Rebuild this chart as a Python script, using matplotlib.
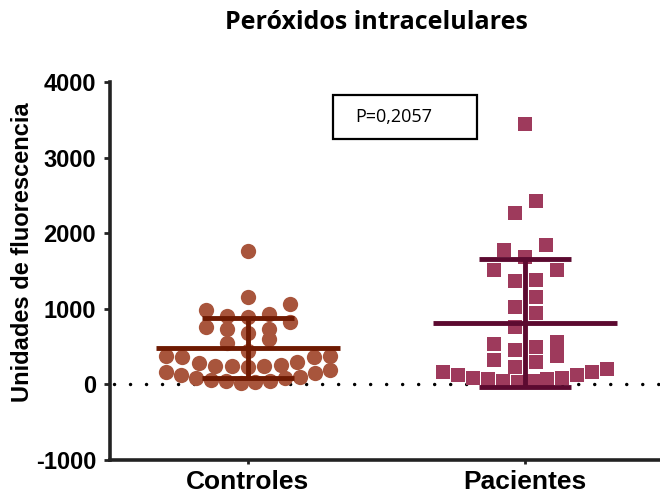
import numpy as np
import matplotlib.pyplot as plt
from matplotlib.patches import Rectangle

# valores
groups = ["Controles", "Pacientes"]
controles = [1760, 1160, 1060, 990, 930, 900, 890, 830, 760, 730, 730, 680,
             600, 545, 440, 380, 370, 360, 360, 290, 280, 260, 250, 250, 240,
             230, 190, 160, 150, 120, 100, 90, 80, 60, 50, 40, 30, 20]
pacientes = [3440, 2420, 2270, 1840, 1780, 1680, 1510, 1510, 1380, 1370,
             1150, 1020, 940, 760, 560, 530, 500, 450, 380, 320, 290, 230,
             210, 160, 160, 120, 120, 90, 90, 70, 70, 40, 40, 30]
means = [480, 810]
sds = [400, 850]
p_text = "P=0,2057"
yticks = [-1000, 0, 1000, 2000, 3000, 4000]

dot_colors = ["#A8553C", "#9E3A5C"]
line_colors = ["#6E1A02", "#5C0A30"]
markers = ["o", "s"]


def spread(ax, xc, vals, row_px=15, gap_px=21, half_px=82):
    # filas por valor, puntos repartidos a lo ancho (como GraphPad)
    trans = ax.transData
    inv = trans.inverted()
    x0 = trans.transform((xc, 0))[0]
    py = np.array([trans.transform((xc, v))[1] for v in vals])
    order = np.argsort(py, kind="stable")
    rows, cur, start = [], [], None
    for i in order:
        if start is None or py[i] - start > row_px:
            if cur:
                rows.append(cur)
            cur, start = [], py[i]
        cur.append(i)
    rows.append(cur)
    xs = np.zeros(len(vals))
    for idx in rows:
        n = len(idx)
        gap = gap_px if n < 2 else min(gap_px, 2 * half_px / (n - 1))
        if n % 2:
            slots = [0] + [s * k for k in range(1, n) for s in (-1, 1)]
        else:
            slots = [s * (k - 0.5) for k in range(1, n) for s in (-1, 1)]
        for j, i in enumerate(idx):
            xs[i] = inv.transform((x0 + slots[j] * gap, py[i]))[0]
    return xs


fig = plt.figure(figsize=(6.6, 5), dpi=100)
ax = fig.add_axes([110 / 660, 40 / 500, 550 / 660, 378 / 500])
ax.set_xlim(-0.498, 1.487)
ax.set_ylim(-1000, 4000)

ax.plot([-0.6, 1.6], [0, 0], color="black", lw=2.5, linestyle=(0, (0.01, 4.6)),
        dash_capstyle="round", zorder=1)

for i, vals in enumerate([controles, pacientes]):
    xs = spread(ax, i, vals)
    ax.plot(xs, vals, linestyle="none", marker=markers[i], ms=11 if i == 0 else 10.5,
            color=dot_colors[i], markeredgewidth=0, zorder=2)
    c = line_colors[i]
    m, s = means[i], sds[i]
    ax.plot([i - 0.333, i + 0.333], [m, m], color=c, lw=3.5, zorder=3, solid_capstyle="butt")
    ax.plot([i, i], [m - s, m + s], color=c, lw=3.5, zorder=3, solid_capstyle="butt")
    for yv in (m - s, m + s):
        ax.plot([i - 0.166, i + 0.166], [yv, yv], color=c, lw=3.5, zorder=3,
                solid_capstyle="butt")

ax.set_xticks([0, 1])
ax.set_xticklabels(groups, fontsize=19, fontweight="bold", family="Liberation Sans")
ax.set_yticks(yticks)
ax.set_yticklabels([str(t) for t in yticks], fontsize=17, fontweight="bold",
                   family="Liberation Sans")
ax.tick_params(axis="y", length=4, width=2, pad=6, color="#222222")
ax.tick_params(axis="x", length=3, width=2, pad=4, color="#222222")
for side in ["top", "right"]:
    ax.spines[side].set_visible(False)
for side in ["left", "bottom"]:
    ax.spines[side].set_linewidth(2.6)
    ax.spines[side].set_color("#222222")

fig.text(0.034, 0.496, "Unidades de fluorescencia", rotation=90, ha="center", va="center",
         fontsize=17, fontweight="bold", family="Liberation Sans")
fig.text(0.571, 0.955, "Peróxidos intracelulares", ha="center", va="center",
         fontsize=18, fontweight="bold", family="Open Sans")

fig.patches.append(Rectangle((333 / 660, 361 / 500), 144 / 660, 44 / 500,
                             transform=fig.transFigure, fill=False, lw=1.6,
                             edgecolor="black"))
fig.text(355 / 660, 383 / 500, p_text, ha="left", va="center", fontsize=13,
         family="Open Sans")

fig.savefig("out.png", dpi=100)
